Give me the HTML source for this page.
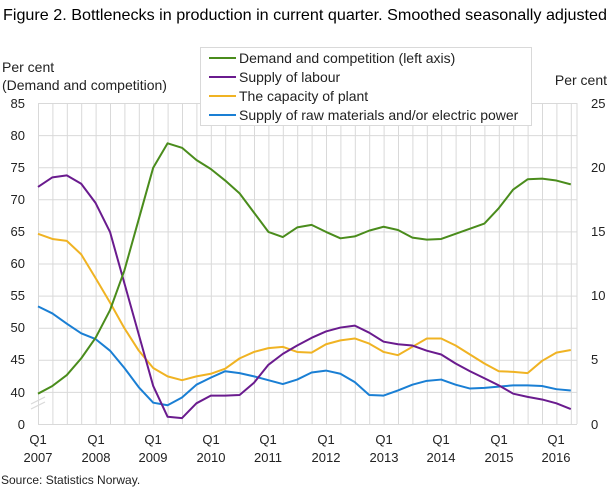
<!DOCTYPE html>
<html><head><meta charset="utf-8"><style>
body{margin:0;background:#fff;}
svg{display:block;font-family:"Liberation Sans",sans-serif;}
</style></head><body>
<svg width="610" height="488" viewBox="0 0 610 488" xmlns="http://www.w3.org/2000/svg">
<text x="3" y="20" font-size="16" textLength="604" lengthAdjust="spacingAndGlyphs" fill="#000">Figure 2. Bottlenecks in production in current quarter. Smoothed seasonally adjusted</text>
<g stroke="#d9d9d9" stroke-width="1">
<line x1="38" y1="103.5" x2="577" y2="103.5"/><line x1="38" y1="135.6" x2="577" y2="135.6"/><line x1="38" y1="167.7" x2="577" y2="167.7"/><line x1="38" y1="199.8" x2="577" y2="199.8"/><line x1="38" y1="231.9" x2="577" y2="231.9"/><line x1="38" y1="264" x2="577" y2="264"/><line x1="38" y1="296.1" x2="577" y2="296.1"/><line x1="38" y1="328.2" x2="577" y2="328.2"/><line x1="38" y1="360.3" x2="577" y2="360.3"/><line x1="38" y1="392.4" x2="577" y2="392.4"/><line x1="38" y1="424.5" x2="577" y2="424.5"/>
</g>
<g stroke="#d9d9d9" stroke-width="1">
<path d="M38.5 103V424M52.9 103V424M67.3 103V424M81.7 103V424M96.1 103V424M110.5 103V424M124.9 103V424M139.3 103V424M153.7 103V424M168.1 103V424M182.5 103V424M196.9 103V424M211.3 103V424M225.7 103V424M240.1 103V424M254.5 103V424M268.9 103V424M283.3 103V424M297.7 103V424M312.1 103V424M326.5 103V424M340.9 103V424M355.3 103V424M369.7 103V424M384.1 103V424M398.5 103V424M412.9 103V424M427.3 103V424M441.7 103V424M456.1 103V424M470.5 103V424M484.9 103V424M499.3 103V424M513.7 103V424M528.1 103V424M542.5 103V424M556.9 103V424M571.3 103V424M577 103V424"/>
</g>
<g stroke="#d9d9d9" stroke-width="1.2"><line x1="31" y1="404" x2="45" y2="397"/><line x1="31" y1="409" x2="45" y2="402"/></g>
<g transform="matrix(14.4 0 0 -6.42 38 649.2)" fill="none" stroke-width="2" stroke-linejoin="round">
<polyline vector-effect="non-scaling-stroke" stroke="#1a7fd4" points="0,53.4 1,52.3 2,50.7 3,49.2 4,48.3 5,46.5 6,43.8 7,40.8 8,38.4 9,38 10,39.2 11,41.2 12,42.3 13,43.3 14,43 15,42.5 16,41.9 17,41.3 18,42 19,43.1 20,43.4 21,42.9 22,41.6 23,39.6 24,39.5 25,40.3 26,41.2 27,41.8 28,42 29,41.2 30,40.6 31,40.7 32,40.9 33,41.1 34,41.1 35,41 36,40.5 37,40.3"/>
<polyline vector-effect="non-scaling-stroke" stroke="#f0b323" points="0,64.7 1,63.9 2,63.6 3,61.5 4,57.8 5,54 6,50 7,46.5 8,43.8 9,42.5 10,41.9 11,42.5 12,42.9 13,43.7 14,45.3 15,46.3 16,46.9 17,47.1 18,46.3 19,46.2 20,47.5 21,48.1 22,48.4 23,47.6 24,46.3 25,45.8 26,47.1 27,48.4 28,48.4 29,47.3 30,45.9 31,44.5 32,43.3 33,43.2 34,43 35,44.9 36,46.2 37,46.6"/>
<polyline vector-effect="non-scaling-stroke" stroke="#6a1b8e" points="0,72 1,73.5 2,73.8 3,72.5 4,69.5 5,65 6,57 7,49 8,41 9,36.2 10,36 11,38.3 12,39.5 13,39.5 14,39.6 15,41.5 16,44.3 17,46 18,47.3 19,48.5 20,49.5 21,50.1 22,50.4 23,49.3 24,47.9 25,47.5 26,47.3 27,46.5 28,45.9 29,44.5 30,43.3 31,42.2 32,41.1 33,39.8 34,39.3 35,38.9 36,38.3 37,37.4"/>
<polyline vector-effect="non-scaling-stroke" stroke="#4a8c1c" points="0,39.8 1,41 2,42.7 3,45.3 4,48.5 5,52.8 6,59 7,67 8,75 9,78.8 10,78.1 11,76.2 12,74.8 13,73 14,71 15,68 16,65 17,64.2 18,65.7 19,66.1 20,65 21,64 22,64.3 23,65.2 24,65.8 25,65.3 26,64.1 27,63.8 28,63.9 29,64.7 30,65.5 31,66.3 32,68.7 33,71.6 34,73.2 35,73.3 36,73 37,72.4"/>
</g>
<rect x="200.5" y="47.5" width="331" height="78" fill="#fff" stroke="#d9d9d9"/>
<g stroke-width="2"><line x1="209" y1="58" x2="236" y2="58" stroke="#4a8c1c"/><line x1="209" y1="77" x2="236" y2="77" stroke="#6a1b8e"/><line x1="209" y1="96" x2="236" y2="96" stroke="#f0b323"/><line x1="209" y1="115" x2="236" y2="115" stroke="#1a7fd4"/></g>
<g font-size="14" fill="#222">
<text x="239" y="63">Demand and competition (left axis)</text>
<text x="239" y="82">Supply of labour</text>
<text x="239" y="101">The capacity of plant</text>
<text x="239" y="120">Supply of raw materials and/or electric power</text>
<text x="2" y="72">Per cent</text>
<text x="2" y="90">(Demand  and competition)</text>
<text x="607" y="85" text-anchor="end">Per cent</text>
</g>
<g font-size="13" fill="#222" text-anchor="end">
<text x="25" y="108">85</text><text x="25" y="140">80</text><text x="25" y="172">75</text><text x="25" y="204">70</text><text x="25" y="236">65</text><text x="25" y="268">60</text><text x="25" y="300">55</text><text x="25" y="332">50</text><text x="25" y="364">45</text><text x="25" y="397">40</text><text x="25" y="429">0</text>
</g>
<g font-size="13" fill="#222">
<text x="591" y="108">25</text><text x="591" y="172">20</text><text x="591" y="236">15</text><text x="591" y="300">10</text><text x="591" y="364">5</text><text x="591" y="429">0</text>
</g>
<g font-size="13" fill="#222" text-anchor="middle">
<text x="38" y="444">Q1</text><text x="38" y="462">2007</text>
<text x="96" y="444">Q1</text><text x="96" y="462">2008</text>
<text x="153" y="444">Q1</text><text x="153" y="462">2009</text>
<text x="211" y="444">Q1</text><text x="211" y="462">2010</text>
<text x="268" y="444">Q1</text><text x="268" y="462">2011</text>
<text x="326" y="444">Q1</text><text x="326" y="462">2012</text>
<text x="384" y="444">Q1</text><text x="384" y="462">2013</text>
<text x="441" y="444">Q1</text><text x="441" y="462">2014</text>
<text x="499" y="444">Q1</text><text x="499" y="462">2015</text>
<text x="556" y="444">Q1</text><text x="556" y="462">2016</text>
</g>
<text x="1" y="484" font-size="12" fill="#222">Source: Statistics Norway.</text>
</svg>
</body></html>
